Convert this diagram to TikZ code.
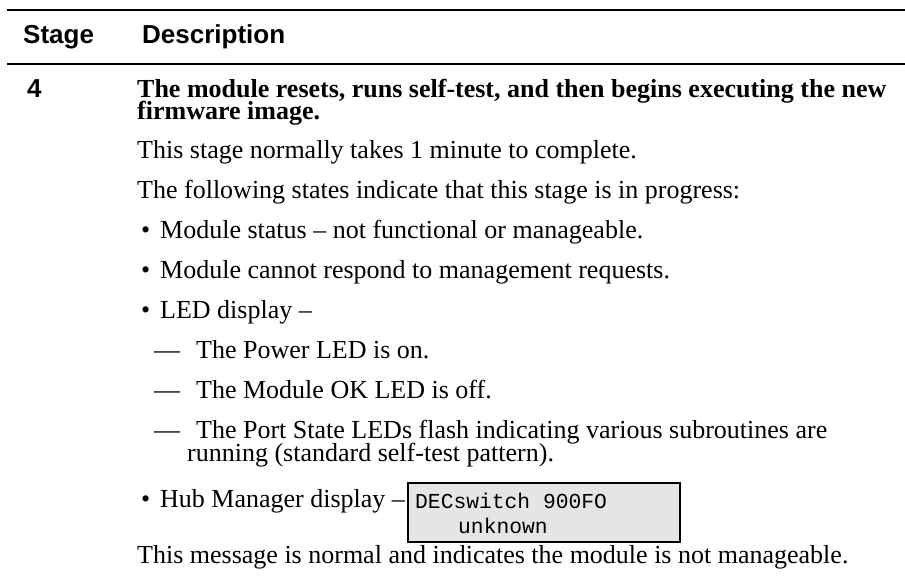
\documentclass[tikz,border=0pt]{standalone}
\usepackage{fontspec}
\setmainfont{Liberation Serif}
\setmonofont{Liberation Mono}
\newfontfamily\headfont{Liberation Sans}
\definecolor{lcdgray}{gray}{0.9}
\tikzset{
  txt/.style={anchor=base west,inner sep=0pt,font=\fontsize{26}{23}\selectfont},
  headtxt/.style={txt,font=\headfont\bfseries\fontsize{26}{23}\selectfont},
  lcdtxt/.style={anchor=base west,inner sep=0pt,font=\ttfamily\fontsize{21.3}{24}\selectfont}
}
\begin{document}
\begin{tikzpicture}[x=1pt,y=-1pt]
\useasboundingbox (0,0) rectangle (905,582);
\draw[line width=2.5pt](7,10)--(905,10);
\draw[line width=2.5pt](7,64)--(905,64);

\node[headtxt] (stage) at (23,43) {Stage};
\node[headtxt] (descr) at (142,43) {Description};
\node[headtxt] (num) at (27,97) {4};

\node[txt,font=\bfseries\fontsize{26}{23}\selectfont] (title1) at (137,97) {The module resets, runs self-test, and then begins executing the new};
\node[txt,font=\bfseries\fontsize{26}{23}\selectfont] (title2) at (137,119) {firmware image.};

\node[txt] (time) at (137,158) {This stage normally takes 1 minute to complete.};
\node[txt] (states) at (137,198) {The following states indicate that this stage is in progress:};

\foreach \n/\y/\t in {status/238/{Module status -- not functional or manageable.},
                      resp/278/{Module cannot respond to management requests.},
                      led/318/{LED display --},
                      hub/507/{Hub Manager display --}}
{
    \node[txt] (dot-\n) at (141,\y) {\textbullet};
    \node[txt] (\n) at (160,\y) {\t};
}
\foreach \n/\y/\t in {pwr/358/{The Power LED is on.},
                      ok/398/{The Module OK LED is off.},
                      port/438/{The Port State LEDs flash indicating various subroutines are}}
{
    \node[txt] (dash-\n) at (154,\y) {---};
    \node[txt] (\n) at (196,\y) {\t};
}
\node[txt] (port2) at (187,461) {running (standard self-test pattern).};

\node[draw,line width=1.6pt,fill=lcdgray,anchor=north west,minimum width=272pt,minimum height=59pt] (lcd) at (407,482) {};
\node[lcdtxt] (lcd1) at (415,508) {DECswitch 900FO};
\node[lcdtxt] (lcd2) at (458,533) {unknown};

\node[txt] (normal) at (137,563) {This message is normal and indicates the module is not manageable.};
\end{tikzpicture}
\end{document}
